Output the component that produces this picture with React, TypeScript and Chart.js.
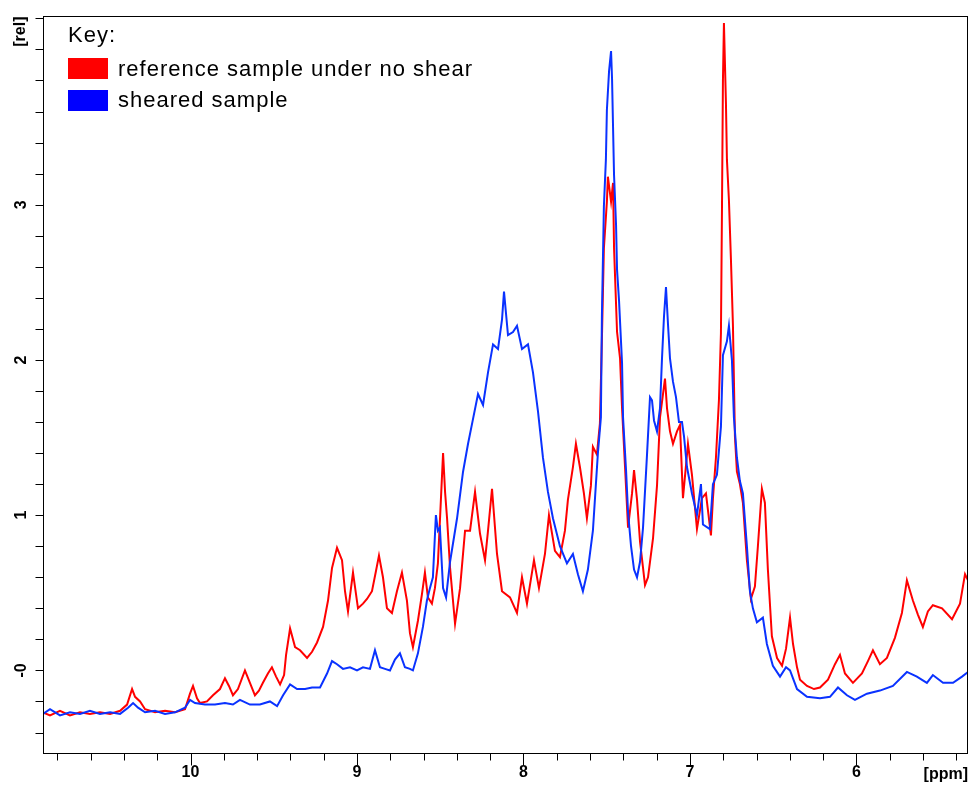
import React, { useEffect, useRef } from 'react';
import { Chart, registerables } from 'chart.js';

Chart.register(...registerables);

// Reference sample under no shear (red)
const redShift = [
  10.886, 10.844, 10.784, 10.724, 10.664, 10.604, 10.544, 10.483, 10.423, 10.381,
  10.351, 10.333, 10.303, 10.273, 10.213, 10.153, 10.093, 10.033, 10.003, 9.985,
  9.961, 9.943, 9.901, 9.865, 9.823, 9.793, 9.769, 9.745, 9.715, 9.673,
  9.643, 9.613, 9.589, 9.565, 9.535, 9.511, 9.486, 9.462, 9.438, 9.426,
  9.402, 9.372, 9.342, 9.300, 9.270, 9.240, 9.204, 9.174, 9.150, 9.120,
  9.090, 9.072, 9.054, 9.024, 8.994, 8.964, 8.940, 8.910, 8.886, 8.868,
  8.844, 8.820, 8.790, 8.760, 8.730, 8.700, 8.682, 8.664, 8.634, 8.610,
  8.592, 8.574, 8.550, 8.532, 8.514, 8.496, 8.483, 8.471, 8.459, 8.441,
  8.411, 8.381, 8.351, 8.321, 8.291, 8.261, 8.231, 8.213, 8.189, 8.159,
  8.129, 8.081, 8.039, 8.009, 7.979, 7.937, 7.907, 7.871, 7.847, 7.811,
  7.781, 7.751, 7.733, 7.703, 7.685, 7.661, 7.637, 7.619, 7.595, 7.583,
  7.559, 7.541, 7.529, 7.517, 7.499, 7.493, 7.474, 7.462, 7.456, 7.438,
  7.420, 7.408, 7.390, 7.372, 7.348, 7.336, 7.318, 7.300, 7.270, 7.252,
  7.222, 7.198, 7.180, 7.162, 7.150, 7.138, 7.120, 7.102, 7.078, 7.060,
  7.042, 7.012, 6.988, 6.958, 6.928, 6.904, 6.874, 6.862, 6.844, 6.826,
  6.814, 6.808, 6.802, 6.796, 6.784, 6.778, 6.766, 6.754, 6.742, 6.730,
  6.718, 6.700, 6.682, 6.658, 6.634, 6.610, 6.592, 6.568, 6.550, 6.532,
  6.508, 6.477, 6.447, 6.423, 6.399, 6.381, 6.357, 6.339, 6.297, 6.255,
  6.219, 6.171, 6.129, 6.099, 6.069, 6.021, 5.967, 5.931, 5.901, 5.859,
  5.817, 5.769, 5.727, 5.697, 5.661, 5.631, 5.601, 5.571, 5.541, 5.486,
  5.426, 5.378, 5.348, 5.330,
];
const redIntensity = [
  -0.27, -0.29, -0.26, -0.29, -0.27, -0.28, -0.27, -0.28, -0.26, -0.22,
  -0.12, -0.17, -0.20, -0.25, -0.27, -0.26, -0.27, -0.25, -0.15, -0.10,
  -0.18, -0.21, -0.20, -0.16, -0.12, -0.05, -0.10, -0.16, -0.12, 0.00,
  -0.08, -0.16, -0.13, -0.08, -0.02, 0.02, -0.04, -0.09, -0.03, 0.10,
  0.27, 0.15, 0.13, 0.08, 0.12, 0.18, 0.28, 0.45, 0.66, 0.79,
  0.71, 0.51, 0.38, 0.63, 0.40, 0.43, 0.46, 0.51, 0.64, 0.74,
  0.60, 0.40, 0.37, 0.51, 0.63, 0.45, 0.24, 0.15, 0.32, 0.49,
  0.63, 0.47, 0.43, 0.53, 0.69, 1.10, 1.40, 1.15, 0.98, 0.66,
  0.30, 0.53, 0.90, 0.90, 1.15, 0.88, 0.71, 0.90, 1.17, 0.75,
  0.51, 0.47, 0.37, 0.60, 0.43, 0.71, 0.53, 0.75, 1.00, 0.77,
  0.73, 0.90, 1.10, 1.31, 1.46, 1.31, 1.14, 0.98, 1.19, 1.44,
  1.39, 1.59, 2.13, 2.72, 3.02, 3.18, 3.02, 3.14, 2.72, 2.18,
  2.01, 1.69, 1.31, 0.92, 1.14, 1.29, 1.10, 0.83, 0.55, 0.60,
  0.85, 1.19, 1.63, 1.78, 1.88, 1.69, 1.54, 1.46, 1.54, 1.58,
  1.11, 1.46, 1.26, 0.91, 1.11, 1.14, 0.87, 1.11, 1.37, 1.74,
  2.17, 2.94, 3.80, 4.17, 3.66, 3.29, 3.03, 2.65, 2.23, 1.51,
  1.28, 1.20, 1.08, 0.71, 0.46, 0.54, 0.80, 1.17, 1.08, 0.65,
  0.22, 0.08, 0.03, 0.14, 0.34, 0.17, 0.02, -0.06, -0.10, -0.12,
  -0.11, -0.06, 0.04, 0.10, -0.02, -0.08, -0.02, 0.06, 0.13, 0.04,
  0.08, 0.21, 0.37, 0.58, 0.45, 0.36, 0.28, 0.38, 0.42, 0.40,
  0.33, 0.43, 0.62, 0.58,
];

// Sheared sample (blue)
const blueShift = [
  10.886, 10.844, 10.784, 10.724, 10.664, 10.604, 10.544, 10.483, 10.423, 10.375,
  10.345, 10.315, 10.273, 10.213, 10.153, 10.093, 10.033, 10.003, 9.973, 9.913,
  9.853, 9.793, 9.745, 9.703, 9.643, 9.583, 9.523, 9.480, 9.444, 9.402,
  9.360, 9.312, 9.270, 9.222, 9.180, 9.150, 9.120, 9.084, 9.042, 9.000,
  8.964, 8.922, 8.892, 8.862, 8.832, 8.802, 8.772, 8.742, 8.712, 8.682,
  8.664, 8.634, 8.604, 8.580, 8.562, 8.544, 8.526, 8.514, 8.502, 8.483,
  8.465, 8.441, 8.399, 8.363, 8.333, 8.303, 8.273, 8.243, 8.213, 8.183,
  8.153, 8.129, 8.117, 8.093, 8.063, 8.039, 8.009, 7.973, 7.943, 7.913,
  7.883, 7.853, 7.823, 7.781, 7.739, 7.703, 7.673, 7.643, 7.613, 7.583,
  7.553, 7.535, 7.529, 7.517, 7.505, 7.499, 7.486, 7.474, 7.468, 7.456,
  7.444, 7.438, 7.426, 7.408, 7.402, 7.384, 7.372, 7.354, 7.336, 7.318,
  7.300, 7.282, 7.258, 7.240, 7.228, 7.216, 7.198, 7.180, 7.168, 7.156,
  7.144, 7.132, 7.120, 7.102, 7.084, 7.066, 7.048, 7.036, 7.018, 6.988,
  6.958, 6.934, 6.922, 6.880, 6.862, 6.838, 6.814, 6.802, 6.778, 6.766,
  6.748, 6.736, 6.718, 6.700, 6.682, 6.658, 6.640, 6.622, 6.598, 6.562,
  6.538, 6.502, 6.459, 6.423, 6.399, 6.357, 6.297, 6.219, 6.159, 6.111,
  6.057, 6.009, 5.937, 5.859, 5.781, 5.697, 5.637, 5.577, 5.541, 5.480,
  5.420, 5.366, 5.330,
];
const blueIntensity = [
  -0.28, -0.25, -0.29, -0.27, -0.28, -0.26, -0.28, -0.27, -0.28, -0.24,
  -0.21, -0.24, -0.27, -0.26, -0.28, -0.27, -0.24, -0.19, -0.21, -0.22,
  -0.22, -0.21, -0.22, -0.19, -0.22, -0.22, -0.20, -0.23, -0.16, -0.09,
  -0.12, -0.12, -0.11, -0.11, -0.02, 0.06, 0.04, 0.01, 0.02, 0.00,
  0.02, 0.01, 0.13, 0.02, 0.01, 0.00, 0.07, 0.11, 0.02, 0.01,
  0.00, 0.11, 0.28, 0.45, 0.53, 0.60, 1.00, 0.90, 0.92, 0.53,
  0.47, 0.70, 0.98, 1.28, 1.46, 1.62, 1.78, 1.71, 1.92, 2.10,
  2.07, 2.26, 2.44, 2.16, 2.18, 2.22, 2.07, 2.10, 1.92, 1.67,
  1.37, 1.15, 0.98, 0.80, 0.69, 0.75, 0.62, 0.51, 0.65, 0.90,
  1.40, 1.63, 2.28, 2.99, 3.29, 3.61, 3.86, 3.99, 3.81, 3.19,
  2.87, 2.58, 2.38, 1.98, 1.63, 1.29, 1.02, 0.80, 0.65, 0.60,
  0.70, 0.92, 1.39, 1.76, 1.74, 1.61, 1.54, 1.69, 2.01, 2.28,
  2.47, 2.23, 2.01, 1.86, 1.76, 1.60, 1.60, 1.51, 1.31, 1.14,
  1.00, 1.20, 0.94, 0.91, 1.20, 1.26, 1.57, 2.03, 2.12, 2.22,
  2.00, 1.63, 1.37, 1.22, 1.14, 0.80, 0.51, 0.40, 0.31, 0.34,
  0.17, 0.03, -0.04, 0.02, 0.00, -0.12, -0.17, -0.18, -0.17, -0.11,
  -0.16, -0.19, -0.15, -0.13, -0.10, -0.01, -0.04, -0.08, -0.03, -0.08,
  -0.08, -0.04, -0.01,
];

const xRange = [5.33, 10.886];
const yRange = [-0.532, 4.218];
const xMinorStep = 0.2;
const yMinorStep = 0.2;
const yLabelled = [0, 1, 2, 3];
const xLabelled = [6, 7, 8, 9, 10];
const legendTitle = 'Key:';
const legendLabels = ['reference sample under no shear', 'sheared sample'];
const redColor = '#ff0000';
const blueColor = '#0a32ff';
const legendBlue = '#0000ff';

const tickFont = { family: '"Liberation Sans", Arial, sans-serif', size: 16, weight: 'bold' as const };

function stepTicks(min: number, max: number, step: number) {
  const out: number[] = [];
  const start = Math.ceil(min / step - 1e-9);
  const end = Math.floor(max / step + 1e-9);
  for (let i = start; i <= end; i++) out.push(Math.round(i * step * 1000) / 1000);
  return out;
}

const isOneOf = (v: number, list: number[]) => list.some((l) => Math.abs(l - v) < 1e-6);

const frameTicks = {
  id: 'frameTicks',
  afterDraw(chart: any) {
    const { ctx, chartArea: a, scales } = chart;
    const x = scales.x;
    const y = scales.y;
    ctx.save();
    ctx.strokeStyle = '#000';
    ctx.lineWidth = 1;
    const l = Math.round(a.left) + 0.5;
    const t = Math.round(a.top) + 0.5;
    const r = Math.round(a.right) - 0.5;
    const b = Math.round(a.bottom) + 0.5;
    ctx.strokeRect(l, t, r - l, b - t);
    ctx.beginPath();
    x.ticks.forEach((tk: any) => {
      const px = Math.round(x.getPixelForValue(tk.value)) + 0.5;
      const major = isOneOf(tk.value, xLabelled);
      ctx.moveTo(px, b);
      ctx.lineTo(px, b + (major ? 12 : 7));
    });
    y.ticks.forEach((tk: any) => {
      const py = Math.round(y.getPixelForValue(tk.value)) + 0.5;
      ctx.moveTo(l, py);
      ctx.lineTo(l - 8, py);
    });
    ctx.stroke();
    ctx.fillStyle = '#000';
    ctx.font = 'bold 16px "Liberation Sans", Arial, sans-serif';
    ctx.textAlign = 'right';
    ctx.textBaseline = 'middle';
    ctx.fillText('[ppm]', a.right, a.bottom + 22);
    ctx.translate(21, a.top + 16);
    ctx.rotate(-Math.PI / 2);
    ctx.textAlign = 'center';
    ctx.fillText('[rel]', 0, 0);
    ctx.restore();
  },
};

export default function App() {
  const canvasRef = useRef<HTMLCanvasElement>(null);

  useEffect(() => {
    const canvas = canvasRef.current;
    if (!canvas) return;
    const chart = new Chart(canvas, {
      type: 'line',
      data: {
        datasets: [
          {
            label: legendLabels[1],
            data: blueShift.map((s, i) => ({ x: s, y: blueIntensity[i] })),
            borderColor: blueColor,
            backgroundColor: blueColor,
            borderWidth: 2,
            pointRadius: 0,
            tension: 0,
            fill: false,
          },
          {
            label: legendLabels[0],
            data: redShift.map((s, i) => ({ x: s, y: redIntensity[i] })),
            borderColor: redColor,
            backgroundColor: redColor,
            borderWidth: 2,
            pointRadius: 0,
            tension: 0,
            fill: false,
          },
        ],
      },
      options: {
        responsive: false,
        maintainAspectRatio: false,
        animation: false,
        events: [],
        layout: { padding: { top: 12, right: 2, left: 0, bottom: 0 } },
        plugins: { legend: { display: false }, tooltip: { enabled: false } },
        scales: {
          x: {
            type: 'linear',
            position: 'bottom',
            reverse: true,
            min: xRange[0],
            max: xRange[1],
            afterBuildTicks: (scale: any) => {
              scale.ticks = stepTicks(xRange[0], xRange[1], xMinorStep).map((v) => ({ value: v }));
            },
            afterFit: (scale: any) => {
              scale.height = 36;
            },
            grid: { display: false, drawTicks: true, tickLength: 10 },
            border: { display: false },
            ticks: {
              autoSkip: false,
              minRotation: 0,
              maxRotation: 0,
              padding: 0,
              color: '#000',
              font: tickFont,
              callback: (v: any) => (isOneOf(Number(v), xLabelled) ? String(Math.round(Number(v))) : ''),
            },
          },
          y: {
            type: 'linear',
            position: 'left',
            min: yRange[0],
            max: yRange[1],
            afterBuildTicks: (scale: any) => {
              scale.ticks = stepTicks(-0.4, yRange[1], yMinorStep).map((v) => ({ value: v }));
            },
            afterFit: (scale: any) => {
              scale.width = 43;
            },
            grid: { display: false, drawTicks: true, tickLength: 8 },
            border: { display: false },
            ticks: {
              autoSkip: false,
              minRotation: 90,
              maxRotation: 90,
              crossAlign: 'center',
              padding: 6,
              color: '#000',
              font: tickFont,
              callback: (v: any) => {
                const n = Number(v);
                if (!isOneOf(n, yLabelled)) return '';
                const r = Math.round(n);
                return r === 0 ? '-0' : String(r);
              },
            },
          },
        },
      },
      plugins: [frameTicks],
    } as any);
    return () => chart.destroy();
  }, []);

  const textStyle: React.CSSProperties = {
    position: 'absolute',
    fontFamily: '"Liberation Sans", Arial, sans-serif',
    fontSize: 22,
    lineHeight: '22px',
    letterSpacing: '1px',
    color: '#000',
    whiteSpace: 'nowrap',
  };

  return (
    <div style={{ position: 'absolute', left: 0, top: 0, width: 970, height: 789, background: '#fff' }}>
      <canvas ref={canvasRef} width={970} height={789} style={{ display: 'block', width: 970, height: 789 }} />
      <div style={{ ...textStyle, left: 68, top: 24 }}>{legendTitle}</div>
      <div style={{ position: 'absolute', left: 68, top: 58, width: 40, height: 21, background: redColor }} />
      <div style={{ ...textStyle, left: 118, top: 58 }}>{legendLabels[0]}</div>
      <div style={{ position: 'absolute', left: 68, top: 90, width: 40, height: 21, background: legendBlue }} />
      <div style={{ ...textStyle, left: 118, top: 89 }}>{legendLabels[1]}</div>
    </div>
  );
}
